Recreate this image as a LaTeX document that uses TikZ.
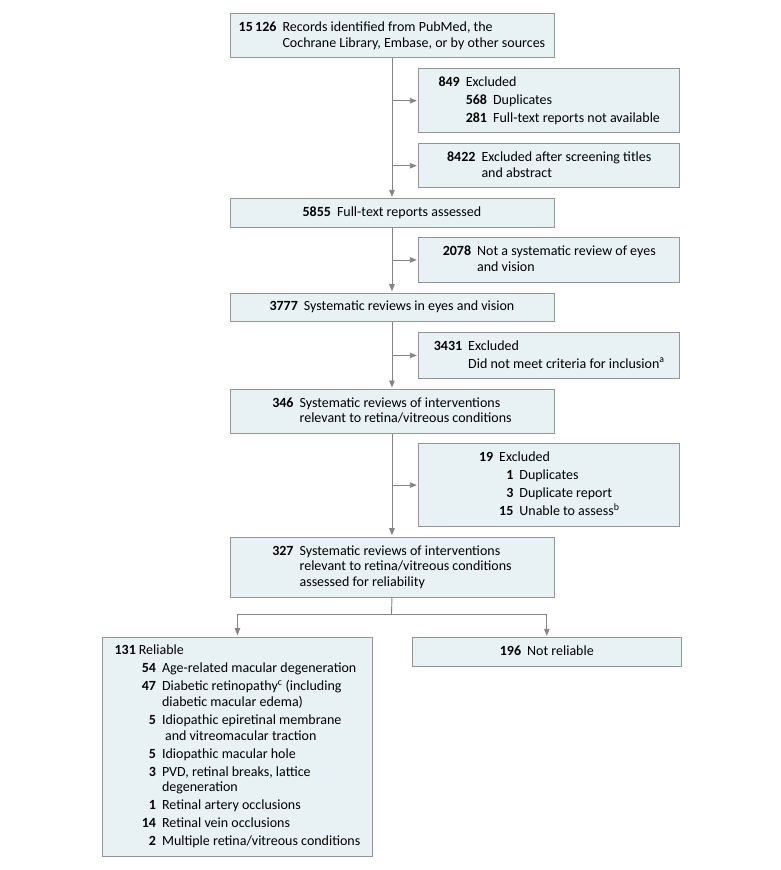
\documentclass[tikz,border=0pt]{standalone}
\usepackage{fontspec}
\setmainfont{Carlito}
\usetikzlibrary{arrows.meta}
\definecolor{boxfill}{HTML}{E8F2F4}
\definecolor{boxline}{HTML}{959595}
\definecolor{arrline}{HTML}{858585}
\newcommand{\wrapnl}{\\[-2.3pt]}
\begin{document}
\begin{tikzpicture}[x=1pt,y=-1pt,
  box/.style={draw=boxline, fill=boxfill, line width=0.9pt, inner sep=0pt,
    align=center, font=\fontsize{14}{18}\selectfont, anchor=north west},
  mainbox/.style={box, minimum width=324pt},
  sidebox/.style={box, minimum width=261pt},
  arr/.style={draw=arrline, line width=0.9pt, -{Triangle[length=7pt,width=5.5pt]}, shorten >=1.5pt},
  ln/.style={draw=arrline, line width=0.9pt}]
\fill[white] (0,0) rectangle (780,870);
\useasboundingbox (0,0) rectangle (780,870);

\node[mainbox, minimum height=44pt] (b1) at (229.5,13.3) {%
\begin{tabular}{@{}r@{\hspace{6pt}}l@{}}
\textbf{15\,126} & Records identified from PubMed, the\wrapnl
 & Cochrane Library, Embase, or by other sources
\end{tabular}};

\node[sidebox, minimum height=64pt] (b849) at (418.3,68.3) {%
\begin{tabular}{@{}r@{\hspace{6pt}}r@{\hspace{6pt}}l@{}}
\textbf{849} & \multicolumn{2}{@{}l@{}}{Excluded}\\
 & \textbf{568} & Duplicates\\
 & \textbf{281} & Full-text reports not available
\end{tabular}};

\node[sidebox, minimum height=44pt] (b8422) at (418.3,143.3) {%
\begin{tabular}{@{}r@{\hspace{6pt}}l@{}}
\textbf{8422} & Excluded after screening titles\wrapnl
 & and abstract
\end{tabular}};

\node[mainbox, minimum height=28.4pt] (b5855) at (229.5,198.3) {%
\begin{tabular}{@{}r@{\hspace{6pt}}l@{}}
\textbf{5855} & Full-text reports assessed
\end{tabular}};

\node[sidebox, minimum height=44.4pt] (b2078) at (418.3,237.3) {%
\begin{tabular}{@{}r@{\hspace{6pt}}l@{}}
\textbf{2078} & Not a systematic review of eyes\wrapnl
 & and vision
\end{tabular}};

\node[mainbox, minimum height=28pt] (b3777) at (229.5,292.7) {%
\begin{tabular}{@{}r@{\hspace{6pt}}l@{}}
\textbf{3777} & Systematic reviews in eyes and vision
\end{tabular}};

\node[sidebox, minimum height=46.6pt] (b3431) at (418.3,331.7) {%
\begin{tabular}{@{}r@{\hspace{6pt}}l@{}}
\textbf{3431} & Excluded\\
 & Did not meet criteria for inclusion\textsuperscript{a}
\end{tabular}};

\node[mainbox, minimum height=43.7pt] (b346) at (229.5,389) {%
\begin{tabular}{@{}r@{\hspace{6pt}}l@{}}
\textbf{346} & Systematic reviews of interventions\wrapnl
 & relevant to retina/vitreous conditions
\end{tabular}};

\node[sidebox, minimum height=82.7pt] (b19) at (418.3,443.3) {%
\begin{tabular}{@{}r@{\hspace{6pt}}r@{\hspace{6pt}}l@{}}
\textbf{19} & \multicolumn{2}{@{}l@{}}{Excluded}\\
 & \textbf{1} & Duplicates\\
 & \textbf{3} & Duplicate report\\
 & \textbf{15} & Unable to assess\textsuperscript{b}
\end{tabular}};

\node[mainbox, minimum height=60pt] (b327) at (229.5,536.7) {%
\begin{tabular}{@{}r@{\hspace{6pt}}l@{}}
\textbf{327} & Systematic reviews of interventions\wrapnl
 & relevant to retina/vitreous conditions\wrapnl
 & assessed for reliability
\end{tabular}};

\node[box, minimum width=269.4pt, minimum height=219.3pt] (b131) at (102.3,636.7) {%
\begin{tabular}{@{}r@{\hspace{6pt}}r@{\hspace{6pt}}l@{}}
\textbf{131} & \multicolumn{2}{@{\hspace{-3pt}}l@{}}{Reliable}\\
 & \textbf{54} & Age-related macular degeneration\\
 & \textbf{47} & Diabetic retinopathy\textsuperscript{c} (including\wrapnl
 & & diabetic macular edema)\\
 & \textbf{5} & Idiopathic epiretinal membrane\wrapnl
 & & \hspace{3pt}and vitreomacular traction\\
 & \textbf{5} & Idiopathic macular hole\\
 & \textbf{3} & PVD, retinal breaks, lattice\wrapnl
 & & degeneration\\
 & \textbf{1} & Retinal artery occlusions\\
 & \textbf{14} & Retinal vein occlusions\\
 & \textbf{2} & Multiple retina/vitreous conditions
\end{tabular}};

\node[box, minimum width=269.3pt, minimum height=28.4pt] (b196) at (411.7,637.3) {%
\begin{tabular}{@{}r@{\hspace{6pt}}l@{}}
\textbf{196} & Not reliable
\end{tabular}};

% main flow
\draw[arr] (b1.south) -- (b5855.north);
\draw[arr] (b1.south |- b849.west) -- (b849.west);
\draw[arr] (b1.south |- b8422.west) -- (b8422.west);
\draw[arr] (b5855.south) -- (b3777.north);
\draw[arr] (b5855.south |- b2078.west) -- (b2078.west);
\draw[arr] (b3777.south) -- (b346.north);
\draw[arr] (b3777.south |- b3431.west) -- (b3431.west);
\draw[arr] (b346.south) -- (b327.north);
\draw[arr] (b346.south |- b19.west) -- (b19.west);
\coordinate (split) at (391.5,614);
\draw[ln] (b327.south) -- (split);
\draw[arr] (split) -| (b131.north);
\draw[arr] (split) -| (b196.north);
\end{tikzpicture}
\end{document}
